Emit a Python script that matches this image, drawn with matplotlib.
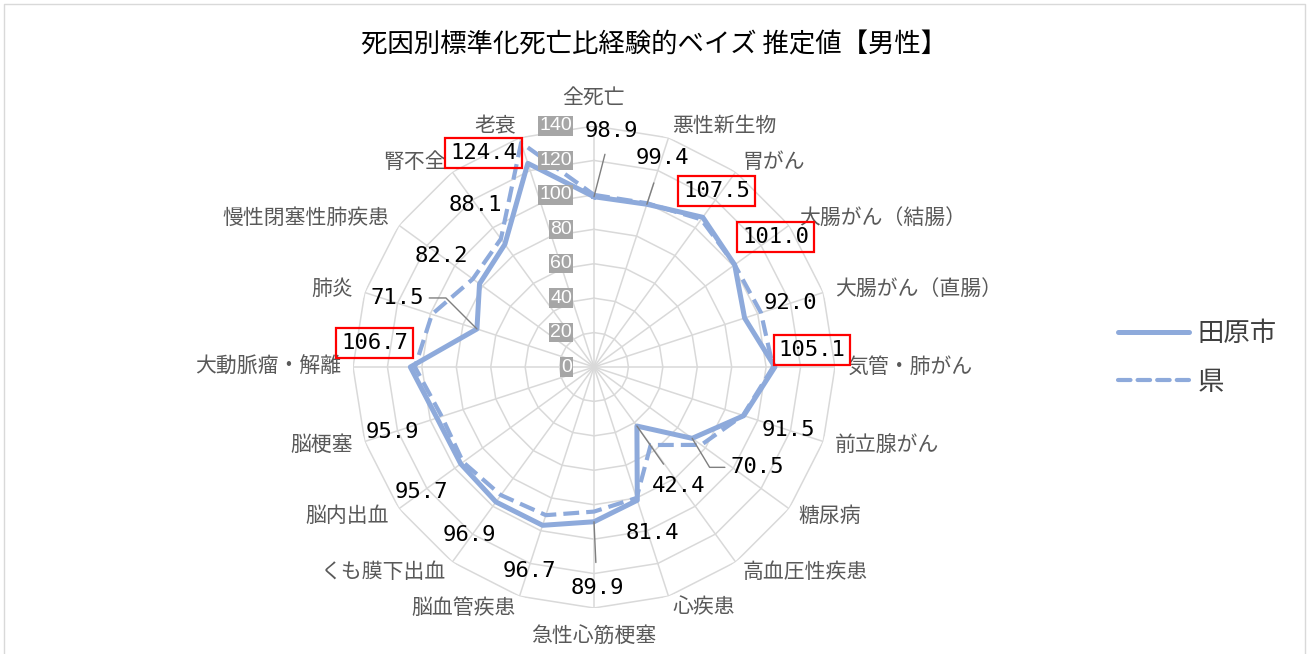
import numpy as np
import matplotlib
matplotlib.use("Agg")
import matplotlib.pyplot as plt
from matplotlib.lines import Line2D

plt.rcParams['font.family'] = ['Noto Sans CJK JP', 'DejaVu Sans']

# ---- data -------------------------------------------------------------
title = '死因別標準化死亡比経験的ベイズ 推定値【男性】'
categories = ['全死亡', '悪性新生物', '胃がん', '大腸がん（結腸）', '大腸がん（直腸）',
              '気管・肺がん', '前立腺がん', '糖尿病', '高血圧性疾患', '心疾患',
              '急性心筋梗塞', '脳血管疾患', 'くも膜下出血', '脳内出血', '脳梗塞',
              '大動脈瘤・解離', '肺炎', '慢性閉塞性肺疾患', '腎不全', '老衰']
series_names = ['田原市', '県']
tahara = [98.9, 99.4, 107.5, 101.0, 92.0, 105.1, 91.5, 70.5, 42.4, 81.4,
          89.9, 96.7, 96.9, 95.7, 95.9, 106.7, 71.5, 82.2, 88.1, 124.4]
ken = [100.0, 100.0, 106.0, 101.0, 102.0, 104.0, 91.0, 77.0, 56.0, 80.0,
       84.0, 90.5, 92.0, 94.0, 93.0, 104.0, 99.0, 87.0, 92.0, 137.0]
r_ticks = [0, 20, 40, 60, 80, 100, 120, 140]

# ---- layout / style -----------------------------------------------------
BLUE = '#8eaadb'
GRID = '#d9d9d9'
# value-label offsets from their point, in pixels (x right, y down)
label_offsets = [(17, -66), (15, -46), (14, -26), (41, -28), (46, -15),
                 (37, -17), (45, 14), (65, 29), (42, 60), (15, 33),
                 (3, 66), (-13, 46), (-27, 33), (-39, 28), (-45, 14),
                 (-36, -24), (-80, -31), (-38, -28), (-29, -39), (-44, -10)]
# leader lines: index -> (connection style, gap at label in points)
leaders = {0: ('arc3', 8), 1: ('arc3', 9), 7: ('angle,angleA=0,angleB=-59', 2),
           8: ('arc3', 8), 10: ('arc3', 9), 16: ('angle,angleA=0,angleB=-45', 2)}

W, H = 1308, 654
fig = plt.figure(figsize=(W / 100, H / 100), dpi=100)
fig.patch.set_facecolor('white')

cx, cy, rad = 594, 367, 241
ax = fig.add_axes([(cx - rad) / W, 1 - (cy + rad) / H, 2 * rad / W, 2 * rad / H],
                  projection='polar')
ax.set_theta_zero_location('N')
ax.set_theta_direction(-1)
ax.set_xticks([])
ax.set_yticks([])
ax.grid(False)
ax.spines['polar'].set_visible(False)
ax.patch.set_alpha(0)

n = len(categories)
theta = np.arange(n) * 2 * np.pi / n
closed = np.append(theta, theta[0])
rmax = r_ticks[-1]

# polygon gridlines and spokes
for lv in r_ticks[1:]:
    ax.plot(closed, [lv] * (n + 1), color=GRID, lw=1.1, zorder=1)
for t in theta:
    ax.plot([t, t], [0, rmax], color=GRID, lw=1.1, zorder=1)

# series
ax.plot(closed, tahara + [tahara[0]], color=BLUE, lw=3.6,
        solid_joinstyle='round', zorder=3)
ax.plot(closed, ken + [ken[0]], color=BLUE, lw=3.0, linestyle=(0, (3.8, 1.7)),
        dash_capstyle='butt', zorder=4)
ax.set_ylim(0, rmax)

# radial axis labels
for lv in r_ticks:
    ax.annotate(str(lv), xy=(0, lv), xytext=(-22, 0), textcoords='offset pixels',
                ha='right', va='center', fontsize=14, color='white',
                family='Liberation Sans', annotation_clip=False, zorder=6,
                bbox=dict(boxstyle='square,pad=0.06', fc='#a6a6a6', ec='none'))

# category labels
for t, name in zip(theta, categories):
    s, c = np.sin(t), np.cos(t)
    if abs(s) < 1e-6:
        ha, off = 'center', 28
    else:
        ha, off = ('left' if s > 0 else 'right'), 12
    ax.annotate(name, xy=(t, rmax), xytext=(off * s, off * c),
                textcoords='offset pixels', ha=ha, va='center', fontsize=15,
                color='#595959', annotation_clip=False)

# value labels
for i, (t, v) in enumerate(zip(theta, tahara)):
    dx, dy = label_offsets[i]
    kw = {}
    if v > 100:
        kw['bbox'] = dict(boxstyle='square,pad=0.22', fc='none', ec='#ff0000', lw=1.6)
    if i in leaders:
        style, gap = leaders[i]
        kw['arrowprops'] = dict(arrowstyle='-', color='#7f7f7f', lw=1.0,
                                connectionstyle=style, shrinkA=gap, shrinkB=0)
    ax.annotate(f'{v:.1f}', xy=(t, v), xytext=(dx, -dy), textcoords='offset pixels',
                ha='center', va='center', fontsize=16, family='DejaVu Sans Mono',
                color='black', annotation_clip=False, zorder=7, **kw)

# legend
handles = [Line2D([], [], color=BLUE, lw=3.6, solid_capstyle='round'),
           Line2D([], [], color=BLUE, lw=3.0, linestyle=(0, (3.0, 1.7)),
                  dash_capstyle='round')]
fig.legend(handles, series_names, loc='center left',
           bbox_to_anchor=(1118 / W, 1 - 358 / H), frameon=False, fontsize=19,
           handlelength=2.7, handletextpad=0.3, labelspacing=0.8, borderpad=0,
           borderaxespad=0, labelcolor='#404040')

# title
fig.text(654 / W, 1 - 45 / H, title, ha='center', va='center', fontsize=19,
         color='black')

# chart frame
fig.add_artist(Line2D([3.5 / W, 3.5 / W, 1305 / W, 1305 / W], [0, 1 - 3.5 / H, 1 - 3.5 / H, 0],
                      color=GRID, lw=1.0, transform=fig.transFigure))

fig.savefig('out.png', dpi=100)
